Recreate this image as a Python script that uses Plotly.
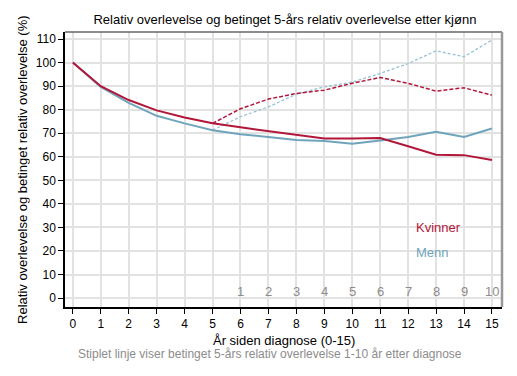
import plotly.graph_objects as go

years = list(range(0, 16))
kvinner = [100, 90, 84.1, 79.7, 76.7, 74.2, 72.5, 70.9, 69.2, 67.8, 67.8, 68.0, 64.5, 60.9, 60.7, 58.6]
menn = [100, 89.7, 82.9, 77.4, 74.2, 71.3, 69.6, 68.2, 67.1, 66.7, 65.5, 66.9, 68.4, 70.6, 68.4, 72.0]
cond_years = list(range(5, 16))
kvinner_cond = [74.2, 80.4, 84.5, 86.9, 88.3, 91.2, 93.7, 91.2, 87.9, 89.3, 86.2]
menn_cond = [71.3, 77.0, 81.2, 86.6, 89.7, 91.7, 95.4, 99.6, 105.0, 102.5, 109.6]
cond_labels = ["1", "2", "3", "4", "5", "6", "7", "8", "9", "10"]

RED = "#B2173A"
BLUE = "#6FA5BC"
BLUE_L = "#95C2D4"
FONT = "Liberation Sans, Arial, sans-serif"

fig = go.Figure()
fig.add_trace(go.Scatter(x=cond_years, y=menn_cond, mode="lines",
                         line=dict(color=BLUE_L, width=1.3, dash="3px,2px"), showlegend=False))
fig.add_trace(go.Scatter(x=cond_years, y=kvinner_cond, mode="lines",
                         line=dict(color=RED, width=1.5, dash="4px,2px"), showlegend=False))
fig.add_trace(go.Scatter(x=years, y=menn, mode="lines",
                         line=dict(color=BLUE, width=2), showlegend=False))
fig.add_trace(go.Scatter(x=years, y=kvinner, mode="lines",
                         line=dict(color=RED, width=2), showlegend=False))

for x, lab in zip(cond_years[1:], cond_labels):
    fig.add_annotation(x=x, y=0, text=lab, showarrow=False, yanchor="bottom", yshift=-3,
                       font=dict(color="#8C8C8C", size=13, family=FONT))

fig.add_annotation(x=12.2, y=30, text="Kvinner", showarrow=False, xanchor="left",
                   font=dict(color=RED, size=13, family=FONT))
fig.add_annotation(x=12.2, y=19.5, text="Menn", showarrow=False, xanchor="left",
                   font=dict(color=BLUE, size=13, family=FONT))

# axis titles and footer (paper coords; plot height 275 px, width 437 px)
fig.add_annotation(xref="paper", yref="paper", x=0.501, y=-0.12, text="År siden diagnose (0-15)",
                   showarrow=False, yanchor="middle", font=dict(color="black", size=13, family=FONT))
fig.add_annotation(xref="paper", yref="paper", x=0.469, y=-0.172,
                   text="Stiplet linje viser betinget 5-års relativ overlevelse 1-10 år etter diagnose",
                   showarrow=False, yanchor="middle", font=dict(color="#8C8C8C", size=12, family=FONT))
fig.add_annotation(xref="paper", yref="paper", x=-0.098, y=0.5, textangle=-90,
                   text="Relativ overlevelse og betinget relativ overlevelse (%)",
                   showarrow=False, xanchor="center", yanchor="middle", width=360,
                   font=dict(color="black", size=13, family=FONT))

# top and right border in gray
fig.add_shape(type="line", xref="paper", yref="paper", x0=0, x1=1, y0=1, y1=1,
              line=dict(color="#666666", width=1.5))
fig.add_shape(type="line", xref="paper", yref="paper", x0=1, x1=1, y0=0, y1=1,
              line=dict(color="#999999", width=2.5))

fig.update_layout(
    width=509, height=368,
    margin=dict(l=57, r=15, t=24, b=69, autoexpand=False),
    plot_bgcolor="white", paper_bgcolor="white",
    font=dict(family=FONT, size=12, color="black"),
    title=dict(text="Relativ overlevelse og betinget 5-års relativ overlevelse etter kjønn",
               x=0.544, xanchor="center", y=0.970, yanchor="middle",
               font=dict(size=13, color="black", family=FONT)),
    xaxis=dict(range=[-0.28, 15.36], tickmode="array", tickvals=years, ticks="outside",
               ticklen=5, tickcolor="black", showline=True, linecolor="black", linewidth=1.5,
               showgrid=True, gridcolor="#E2E2E2", gridwidth=1.5, zeroline=False, automargin=False,
               tickfont=dict(size=12, color="black")),
    yaxis=dict(range=[-3.8, 113], tickmode="array", tickvals=list(range(0, 111, 10)),
               ticks="outside", ticklen=5, tickcolor="black", showline=True, linecolor="black",
               linewidth=1.5, showgrid=True, gridcolor="#E2E2E2", gridwidth=1.5, zeroline=False,
               automargin=False, tickfont=dict(size=12, color="black")),
)

fig.write_html("out.html")
